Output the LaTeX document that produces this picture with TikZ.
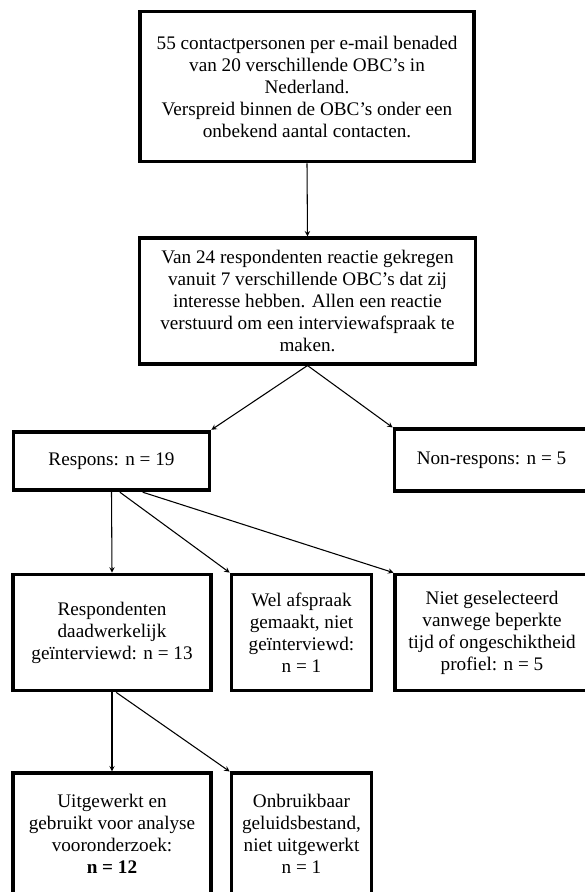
\documentclass[tikz,border=0pt]{standalone}
\usepackage{fontspec}
\setmainfont{Liberation Serif}
\usetikzlibrary{arrows}
\newcommand{\boxfont}{\fontsize{14.4}{16.5}\selectfont}
\tikzstyle{stage} = [rectangle, text centered, align=center, draw=black, line width=2.8pt, fill=white, inner sep=2pt, font=\boxfont]
\tikzstyle{flow} = [black, line width=0.8pt, ->, >=stealth]

\begin{document}
\begin{tikzpicture}[x=0.75pt, y=-0.75pt]

    \useasboundingbox (0, 0) rectangle (585, 892);

    \node (contact) [stage, minimum width=251pt, minimum height=112.5pt] at (307, 86.5)
        {55 contactpersonen per e-mail benaded\\ van 20 verschillende OBC's in\\ Nederland.\\
         Verspreid binnen de OBC's onder een\\ onbekend aantal contacten.};

    \node (reaction) [stage, minimum width=252pt, minimum height=94pt] at (307.5, 301)
        {Van 24 respondenten reactie gekregen\\ vanuit 7 verschillende OBC's dat zij\\
         interesse hebben. Allen een reactie\\ verstuurd om een interviewafspraak te\\ maken.};

    \node (respons) [stage, minimum width=147pt, minimum height=44pt] at (111.5, 461)
        {Respons: n = 19};
    \node (nonrespons) [stage, minimum width=145.5pt, minimum height=46pt] at (491.5, 460)
        {Non-respons: n = 5};

    \node (interviewed) [stage, minimum width=148pt, minimum height=87pt] at (112, 632.5)
        {Respondenten\\ daadwerkelijk\\ geïnterviewd: n = 13};
    \node (appointment) [stage, minimum width=105pt, minimum height=87pt] at (301.5, 632.5)
        {Wel afspraak\\ gemaakt, niet\\ geïnterviewd:\\ n = 1};
    \node (notselected) [stage, minimum width=145pt, minimum height=87pt] at (492, 632.5)
        {Niet geselecteerd\\ vanwege beperkte\\ tijd of ongeschiktheid\\ profiel: n = 5};

    \node (used) [stage, minimum width=148pt, minimum height=91pt] at (112, 834)
        {Uitgewerkt en\\ gebruikt voor analyse\\ vooronderzoek:\\ \textbf{n = 12}};
    \node (unusable) [stage, minimum width=105pt, minimum height=91pt] at (301.5, 834)
        {Onbruikbaar\\ geluidsbestand,\\ niet uitgewerkt\\ n = 1};

    \draw [flow] (contact.south) -- (reaction.north);
    \draw [flow] (reaction.south) -- (respons.north east);
    \draw [flow] (reaction.south) -- (nonrespons.north west);

    \draw [flow] (respons.south) -- (interviewed.north);
    \draw [flow] (respons.-75) -- (appointment.north west);
    \draw [flow] (respons.-45) -- (notselected.north west);

    \draw [flow] (interviewed.south) -- (used.north);
    \draw [flow] (interviewed.-86) -- (unusable.north west);

\end{tikzpicture}
\end{document}
